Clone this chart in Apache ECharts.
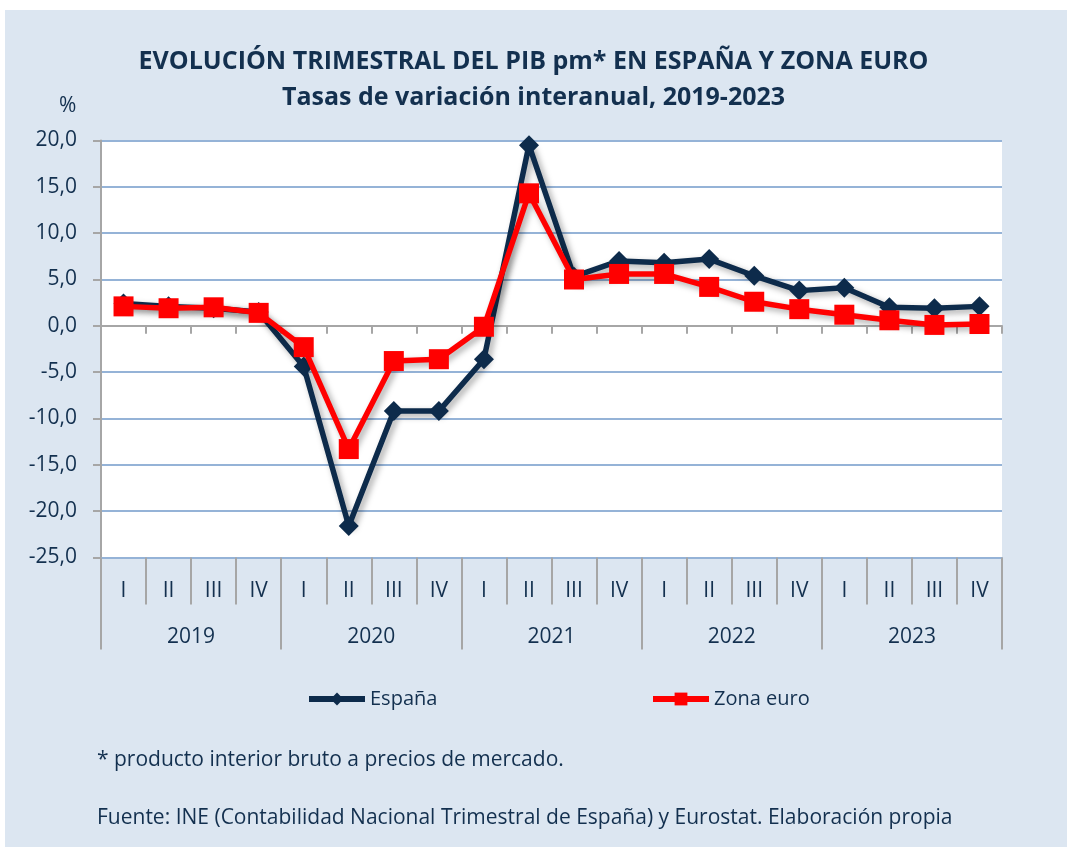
<!DOCTYPE html>
<html>
<head>
<meta charset="utf-8">
<script src="https://cdn.jsdelivr.net/npm/echarts@6/dist/echarts.min.js"></script>
<style>
  html, body { margin: 0; padding: 0; background: #fff; }
  #chart { width: 1067px; height: 847px; }
</style>
</head>
<body>
<div id="chart"></div>
<script>
// datos
const trimestres = ['I', 'II', 'III', 'IV'];
const anios = ['2019', '2020', '2021', '2022', '2023'];
const espana = [2.4, 2.1, 1.9, 1.5, -4.4, -21.6, -9.2, -9.2, -3.6, 19.5, 5.3, 7.0, 6.8, 7.2, 5.4, 3.8, 4.1, 2.0, 1.9, 2.1];
const zonaEuro = [2.1, 1.9, 2.0, 1.4, -2.3, -13.3, -3.8, -3.6, -0.1, 14.3, 5.0, 5.6, 5.6, 4.2, 2.6, 1.8, 1.2, 0.6, 0.1, 0.2];

const categorias = [];
anios.forEach(a => trimestres.forEach(t => categorias.push(t)));

const FONT = 'Open Sans';
const NAVY = '#0d2b4b';
const TEXT = '#13304f';

const chart = echarts.init(document.getElementById('chart'));

const sombra = {
  shadowColor: 'rgba(0,0,0,0.35)',
  shadowBlur: 6,
  shadowOffsetX: 3,
  shadowOffsetY: 3
};

const option = {
  backgroundColor: '#fff',
  textStyle: { fontFamily: FONT },
  graphic: [
    {
      type: 'rect', z: -10,
      shape: { x: 5, y: 10, width: 1062, height: 837 },
      style: { fill: '#dce6f1' }
    },
    {
      type: 'text', left: 59, top: 96,
      style: { text: '%', font: '21px ' + FONT, fill: TEXT }
    },
    {
      type: 'text', left: 97, top: 750,
      style: { text: '* producto interior bruto a precios de mercado.', font: '21px ' + FONT, fill: TEXT }
    },
    {
      type: 'text', left: 97, top: 808,
      style: { text: 'Fuente: INE (Contabilidad Nacional Trimestral de España) y Eurostat. Elaboración propia', font: '21px ' + FONT, fill: TEXT }
    }
  ],
  title: [
    {
      text: 'EVOLUCIÓN TRIMESTRAL DEL PIB pm* EN ESPAÑA Y ZONA EURO',
      left: 'center', top: 49, padding: 0,
      textStyle: { fontSize: 25, fontWeight: 'bold', color: TEXT, fontFamily: FONT }
    },
    {
      text: 'Tasas de variación interanual, 2019-2023',
      left: 'center', top: 85, padding: 0,
      textStyle: { fontSize: 25, fontWeight: 'bold', color: TEXT, fontFamily: FONT }
    }
  ],
  legend: [
    {
      data: ['España'], left: 306, top: 689, padding: 0,
      itemWidth: 56, itemHeight: 16,
      lineStyle: { width: 6, shadowBlur: 0, shadowOffsetX: 0, shadowOffsetY: 0 },
      textStyle: { fontSize: 20, color: TEXT, fontFamily: FONT }
    },
    {
      data: ['Zona euro'], left: 650, top: 689, padding: 0,
      itemWidth: 56, itemHeight: 16,
      lineStyle: { width: 6, shadowBlur: 0, shadowOffsetX: 0, shadowOffsetY: 0 },
      textStyle: { fontSize: 20, color: TEXT, fontFamily: FONT }
    }
  ],
  grid: {
    left: 101, right: 65, top: 140.5, bottom: 289.5,
    show: true, backgroundColor: '#fff', borderWidth: 0
  },
  xAxis: [
    {
      type: 'category', data: categorias, position: 'bottom',
      axisLine: { onZero: false, show: true, lineStyle: { color: '#95b3d7', width: 2 } },
      axisTick: { show: true, length: 47, lineStyle: { color: '#a6a6a6', width: 2 } },
      axisLabel: { margin: 23, fontSize: 21, color: TEXT, fontFamily: FONT },
      splitLine: { show: false }
    },
    {
      type: 'category', data: anios, position: 'bottom',
      axisLine: { onZero: false, show: false },
      axisTick: { show: true, length: 92, lineStyle: { color: '#a6a6a6', width: 2 } },
      axisLabel: { margin: 69, fontSize: 21, color: TEXT, fontFamily: FONT },
      splitLine: { show: false }
    },
    {
      type: 'category', data: categorias, position: 'bottom',
      axisLine: { onZero: true, show: true, lineStyle: { color: '#a6a6a6', width: 2 } },
      axisTick: { show: true, length: 8, lineStyle: { color: '#a6a6a6', width: 2 } },
      axisLabel: { show: false },
      splitLine: { show: false }
    }
  ],
  yAxis: {
    type: 'value', min: -25, max: 20, interval: 5,
    axisLine: { show: true, lineStyle: { color: '#a6a6a6', width: 2 } },
    axisTick: { show: true, length: 8, lineStyle: { color: '#a6a6a6', width: 2 } },
    axisLabel: {
      margin: 24, fontSize: 21, color: TEXT, fontFamily: FONT,
      formatter: v => v.toFixed(1).replace('.', ',')
    },
    splitLine: { lineStyle: { color: '#95b3d7', width: 2 } }
  },
  series: [
    {
      name: 'España', type: 'line', data: espana, xAxisIndex: 0,
      symbol: 'diamond', symbolSize: 20,
      lineStyle: Object.assign({ color: NAVY, width: 5.5 }, sombra),
      itemStyle: { color: NAVY },
      z: 3
    },
    {
      name: 'Zona euro', type: 'line', data: zonaEuro, xAxisIndex: 0,
      symbol: 'rect', symbolSize: 20,
      lineStyle: Object.assign({ color: '#ff0000', width: 5.5 }, sombra),
      itemStyle: { color: '#ff0000' },
      z: 4
    }
  ],
  animation: false
};

chart.setOption(option);
</script>
</body>
</html>
